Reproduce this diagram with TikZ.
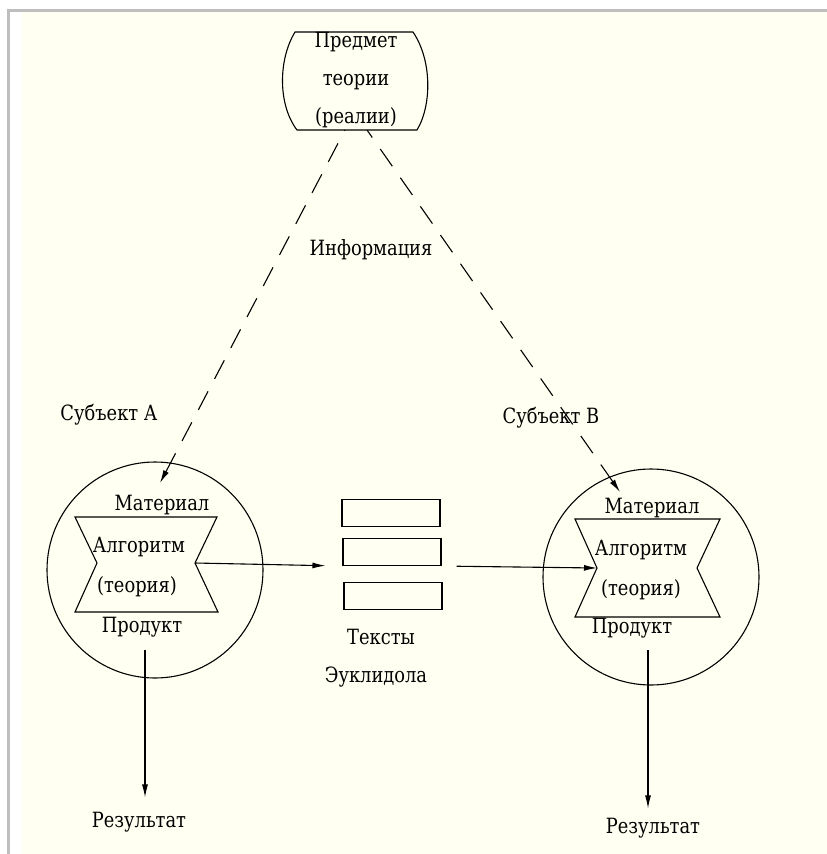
\documentclass[tikz,border=0pt]{standalone}
\usepackage{fontspec}
\setmainfont[FakeStretch=0.85]{DejaVu Serif}
\usetikzlibrary{arrows.meta}
\definecolor{paper}{RGB}{255,255,242}
\definecolor{frame}{RGB}{190,190,190}
\tikzset{
  lbl/.style={inner sep=0pt, font=\fontsize{21}{38}\selectfont},
  arr/.style={-{Latex[length=13pt,width=6pt]}},
  dsh/.style={{Latex[length=13pt,width=6pt]}-, dash pattern=on 21pt off 14pt},
  page/.style={draw, minimum width=98pt, minimum height=27pt, inner sep=0pt},
}

\begin{document}
\begin{tikzpicture}[x=1pt,y=-1pt,line width=1.1pt]
\useasboundingbox (0,0) rectangle (827,854);
\fill[white] (0,0) rectangle (827,854);
\fill[paper] (22,11) rectangle (827,854);
\draw[frame, line width=3pt] (8,854) -- (8,10) -- (827,10);

% subject of the theory
\draw (295,32) -- (413,32) .. controls (432,60) and (432,105) .. (417,130)
  -- (297,130) .. controls (278,105) and (278,60) .. cycle;
\node[lbl, align=center] (pred) at (356,80) {Предмет\\теории\\(реалии)};
\coordinate (predA) at (345,130);
\coordinate (predB) at (367,130);

\node[lbl] (info) at (371,250) {Информация};

% subject A
\node[lbl] (subjA) at (109,415) {Субъект А};
\node[draw, circle, minimum size=216pt, inner sep=0pt] (circA) at (155,570) {};
\draw (75,517) -- (217,517) -- (195,563) coordinate (sendA) -- (218,612)
  -- (75,612) -- (97,563) -- cycle;
\node[lbl] (matA) at (162,505) {Материал};
\node[lbl] (algA) at (139,547) {Алгоритм};
\node[lbl] (theoA) at (137,587) {(теория)};
\node[lbl] (prodA) at (142,627) {Продукт};
\coordinate (inA) at (160,483);
\coordinate (outA) at (145,650);
\node[lbl] (resA) at (139,822) {Результат};

% subject B
\node[lbl] (subjB) at (551,418) {Субъект В};
\node[draw, circle, minimum size=216pt, inner sep=0pt] (circB) at (651,577) {};
\draw (575,519) -- (720,519) -- (697,568) -- (720,617)
  -- (575,617) -- (597,568) coordinate (recvB) -- cycle;
\node[lbl] (matB) at (652,508) {Материал};
\node[lbl] (algB) at (641,550) {Алгоритм};
\node[lbl] (theoB) at (641,590) {(теория)};
\node[lbl] (prodB) at (632,628) {Продукт};
\coordinate (inB) at (620,492);
\coordinate (outB) at (648,650);
\node[lbl] (resB) at (653,828) {Результат};

% texts
\node[page] (txt1) at (391,513) {};
\node[page] (txt2) at (392,552) {};
\node[page] (txt3) at (393,596) {};
\node[lbl] (txtA) at (381,637) {Тексты};
\node[lbl] (txtB) at (376,677) {Эуклидола};

% information
\draw[dsh] (inA) -- (predA);
\draw[dsh] (inB) -- (predB);

\draw[arr, shorten >=17pt] (sendA) -- (txt2.south west);
\draw[arr, shorten <=15pt] (txt2.south east) -- (recvB);

\draw[arr, shorten >=14pt] (outA) -- (outA |- resA.north);
\draw[arr, shorten >=9pt] (outB) -- (outB |- resB.north);

\end{tikzpicture}
\end{document}
